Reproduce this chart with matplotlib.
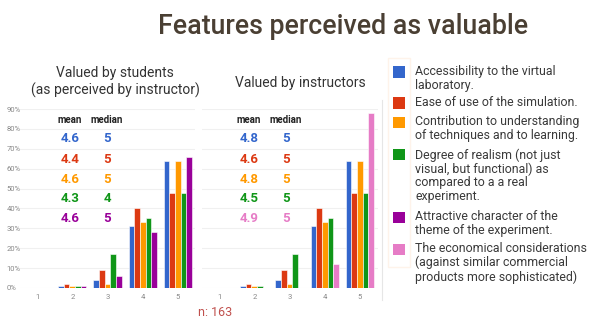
import numpy as np
import matplotlib
matplotlib.use("Agg")
import matplotlib.pyplot as plt
from matplotlib.patches import Rectangle
from matplotlib.lines import Line2D

# ratings on the x axis
ratings = [1, 2, 3, 4, 5]

# % of answers per rating, valued by students (as perceived by instructor)
stu_access = [0, 1, 4, 31, 64]
stu_ease = [0, 2, 9, 40, 48]
stu_contrib = [0, 1, 2, 33, 64]
stu_realism = [0, 1, 17, 35, 48]
stu_attract = [0, 1, 6, 28, 66]

# % of answers per rating, valued by instructors
ins_access = [0, 1, 4, 31, 64]
ins_ease = [0, 2, 9, 40, 48]
ins_contrib = [0, 1, 2, 33, 64]
ins_realism = [0, 1, 17, 35, 48]
ins_econ = [0, 0, 0, 12, 88]

stu_mean = ["4.6", "4.4", "4.6", "4.3", "4.6"]
stu_median = ["5", "5", "5", "4", "5"]
ins_mean = ["4.8", "4.6", "4.8", "4.5", "4.9"]
ins_median = ["5", "5", "5", "5", "5"]

labels = [
    "Accessibility to the virtual\nlaboratory.",
    "Ease of use of the simulation.",
    "Contribution to understanding\nof techniques and to learning.",
    "Degree of realism (not just\nvisual, but functional) as\ncompared to a a real\nexperiment.",
    "Attractive character of the\ntheme of the experiment.",
    "The economical considerations\n(against similar commercial\nproducts more sophisticated)",
]

c_blue, c_red, c_orange, c_green, c_purple, c_pink = (
    "#3366cc", "#dc3912", "#ff9900", "#109618", "#990099", "#e67cc6")
colors = [c_blue, c_red, c_orange, c_green, c_purple, c_pink]

W, H = 600, 326


def px(x, y):
    return x / W, 1 - y / H


fig = plt.figure(figsize=(6, 3.26), dpi=100)
fig.patch.set_facecolor("white")

txt_font = ["Roboto", "DejaVu Sans"]
plt.rcParams["font.family"] = txt_font

y0 = (H - 288) / H
yh = (288 - 109) / H
ax1 = fig.add_axes([19.5 / W, y0, 176 / W, yh])
ax2 = fig.add_axes([201.5 / W, y0, 176 / W, yh])


def draw(ax, series, cols):
    x = np.array(ratings, dtype=float)
    w = 0.16
    n = len(series)
    for i, (vals, col) in enumerate(zip(series, cols)):
        ax.bar(x + (i - (n - 1) / 2) * w, vals, width=w, color=col,
               edgecolor="white", linewidth=0.4)
    ax.set_xlim(0.5, 5.5)
    ax.set_ylim(0, 90)
    ax.set_yticks(range(0, 91, 10))
    ax.set_xticks(ratings)
    ax.grid(axis="y", color="#f0f0f0", linewidth=0.8)
    ax.set_axisbelow(True)
    for s in ax.spines.values():
        s.set_visible(False)
    ax.tick_params(length=0, labelsize=5.5, colors="#888888", pad=4)


draw(ax1, [stu_access, stu_ease, stu_contrib, stu_realism, stu_attract],
     [c_blue, c_red, c_orange, c_green, c_purple])
draw(ax2, [ins_access, ins_ease, ins_contrib, ins_realism, ins_econ],
     [c_blue, c_red, c_orange, c_green, c_pink])
ax1.set_yticklabels([f"{v}%" for v in range(0, 91, 10)])
ax1.tick_params(axis="y", pad=-2)
for t in ax1.get_yticklabels():
    t.set_horizontalalignment("left")
    t.set_x(-0.09)
ax2.set_yticklabels([])

# mean / median annotations
for (mx, mdx, means, meds, cols) in [
        (70, 107, stu_mean, stu_median, [c_blue, c_red, c_orange, c_green, c_purple]),
        (249, 286, ins_mean, ins_median, [c_blue, c_red, c_orange, c_green, c_pink])]:
    fig.text(*px(mx, 120), "mean", ha="center", va="center", fontsize=7,
             fontweight="bold", color="#222222")
    fig.text(*px(mdx, 120), "median", ha="center", va="center", fontsize=7,
             fontweight="bold", color="#222222")
    for k, (m, md, c) in enumerate(zip(means, meds, cols)):
        yy = 139 + 20 * k
        fig.text(*px(mx, yy), m, ha="center", va="center", fontsize=9.5,
                 fontweight="bold", color=c)
        fig.text(*px(mdx, yy), md, ha="center", va="center", fontsize=9.5,
                 fontweight="bold", color=c)

# titles
fig.text(*px(343, 27), "Features perceived as valuable", ha="center",
         va="center", fontsize=19.3, color="#4a3f33", fontweight="medium")
fig.text(*px(115, 82), "Valued by students\n(as perceived by instructor)",
         ha="center", va="center", fontsize=10, color="#333333",
         linespacing=1.15)
fig.text(*px(300, 83), "Valued by instructors", ha="center", va="center",
         fontsize=10, color="#333333")

fig.text(*px(215, 312), "n: 163", ha="center", va="center", fontsize=9,
         color="#c0504d")

# right border line of chart area
fig.add_artist(Line2D([382 / W, 382 / W], [1 - 300 / H, 1 - 100 / H],
                      color="#e6e6e6", linewidth=0.8))

# legend
fig.add_artist(Rectangle(px(388, 267), 22 / W, 209 / H, facecolor="none",
                         edgecolor="#fef3ea", linewidth=1))
leg_y = [72, 103, 122, 155, 217, 249]
for lab, col, yy in zip(labels, colors, leg_y):
    fig.add_artist(Rectangle(px(393, yy + 5.5), 12 / W, 11 / H,
                             facecolor=col, edgecolor="none"))
    fig.text(*px(415, yy - 6.8), lab, ha="left", va="top", fontsize=8.9,
             color="#3a3a3a", linespacing=1.07)

fig.savefig("out.png", dpi=100, facecolor="white")
